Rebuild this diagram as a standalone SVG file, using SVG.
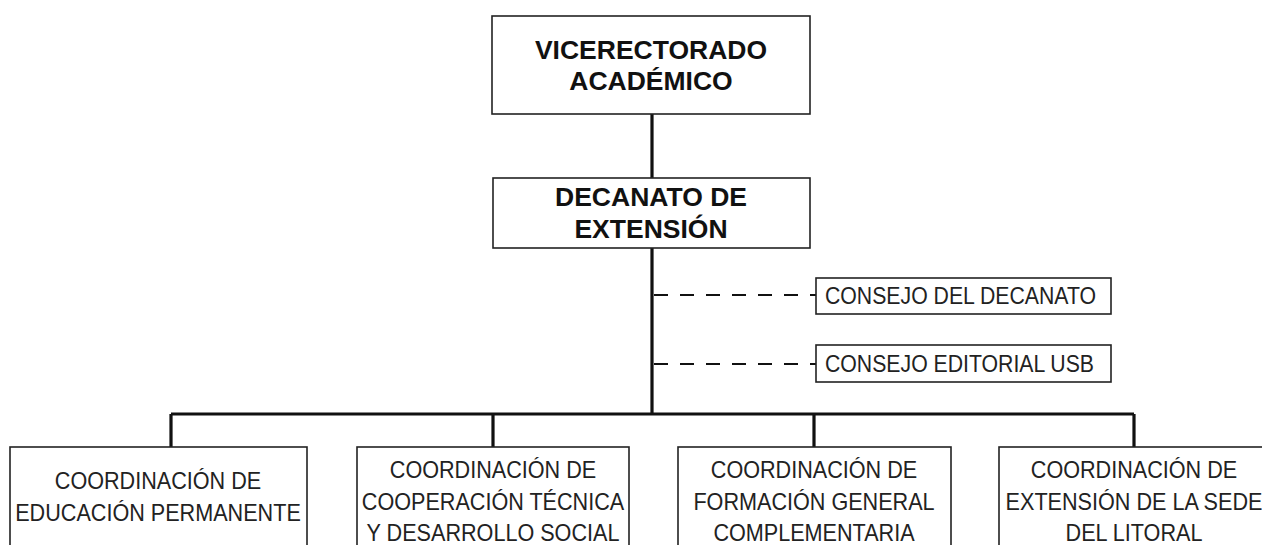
<svg xmlns="http://www.w3.org/2000/svg" width="1262" height="545" viewBox="0 0 1262 545">
<style>
.box{fill:#fff;stroke:#222;stroke-width:1.6}
.conn{fill:none;stroke:#111;stroke-width:3.2}
.dash{fill:none;stroke:#111;stroke-width:1.8;stroke-dasharray:14 12}
.b{font-family:"Liberation Sans",Arial,sans-serif;font-weight:bold;font-size:26.5px;fill:#111;text-anchor:middle}
.r{font-family:"Liberation Sans",Arial,sans-serif;font-size:24px;fill:#222;text-anchor:middle}
.l{font-family:"Liberation Sans",Arial,sans-serif;font-size:24px;fill:#222;text-anchor:start}
</style>
<rect width="1262" height="545" fill="#fff"/>
<g id="connectors">
<path class="conn" d="M652 114V178M652 248V414M171 414H1134M171 414V447M493 414V447M814 414V447M1134 414V447"/>
<path class="dash" d="M654 295H816M654 364H816"/>
</g>
<g id="vicerrectorado">
<rect class="box" x="492" y="16" width="318" height="98"/>
<text class="b" x="651" y="59">VICERECTORADO</text>
<text class="b" x="651" y="90">ACADÉMICO</text>
</g>
<g id="decanato">
<rect class="box" x="493" y="178" width="317" height="70"/>
<text class="b" x="651" y="206">DECANATO DE</text>
<text class="b" x="651" y="238">EXTENSIÓN</text>
</g>
<g id="consejo-decanato">
<rect class="box" x="816" y="278" width="295" height="36"/>
<text class="l" transform="translate(825,304) scale(0.885,1)">CONSEJO DEL DECANATO</text>
</g>
<g id="consejo-editorial">
<rect class="box" x="816" y="345" width="295" height="37"/>
<text class="l" transform="translate(825,372) scale(0.885,1)">CONSEJO EDITORIAL USB</text>
</g>
<g id="coord-educacion">
<rect class="box" x="10" y="447" width="297" height="120"/>
<text class="r" transform="translate(158,489) scale(0.9,1)">COORDINACIÓN DE</text>
<text class="r" transform="translate(158,521) scale(0.9,1)">EDUCACIÓN PERMANENTE</text>
</g>
<g id="coord-cooperacion">
<rect class="box" x="357" y="447" width="272" height="120"/>
<text class="r" transform="translate(493,478) scale(0.9,1)">COORDINACIÓN DE</text>
<text class="r" transform="translate(493,510) scale(0.9,1)">COOPERACIÓN TÉCNICA</text>
<text class="r" transform="translate(493,541) scale(0.9,1)">Y DESARROLLO SOCIAL</text>
</g>
<g id="coord-formacion">
<rect class="box" x="678" y="447" width="273" height="120"/>
<text class="r" transform="translate(814,478) scale(0.9,1)">COORDINACIÓN DE</text>
<text class="r" transform="translate(814,510) scale(0.9,1)">FORMACIÓN GENERAL</text>
<text class="r" transform="translate(814,541) scale(0.9,1)">COMPLEMENTARIA</text>
</g>
<g id="coord-extension">
<rect class="box" x="999" y="447" width="280" height="120"/>
<text class="r" transform="translate(1134,478) scale(0.9,1)">COORDINACIÓN DE</text>
<text class="r" transform="translate(1134,510) scale(0.9,1)">EXTENSIÓN DE LA SEDE</text>
<text class="r" transform="translate(1134,541) scale(0.9,1)">DEL LITORAL</text>
</g>
</svg>
